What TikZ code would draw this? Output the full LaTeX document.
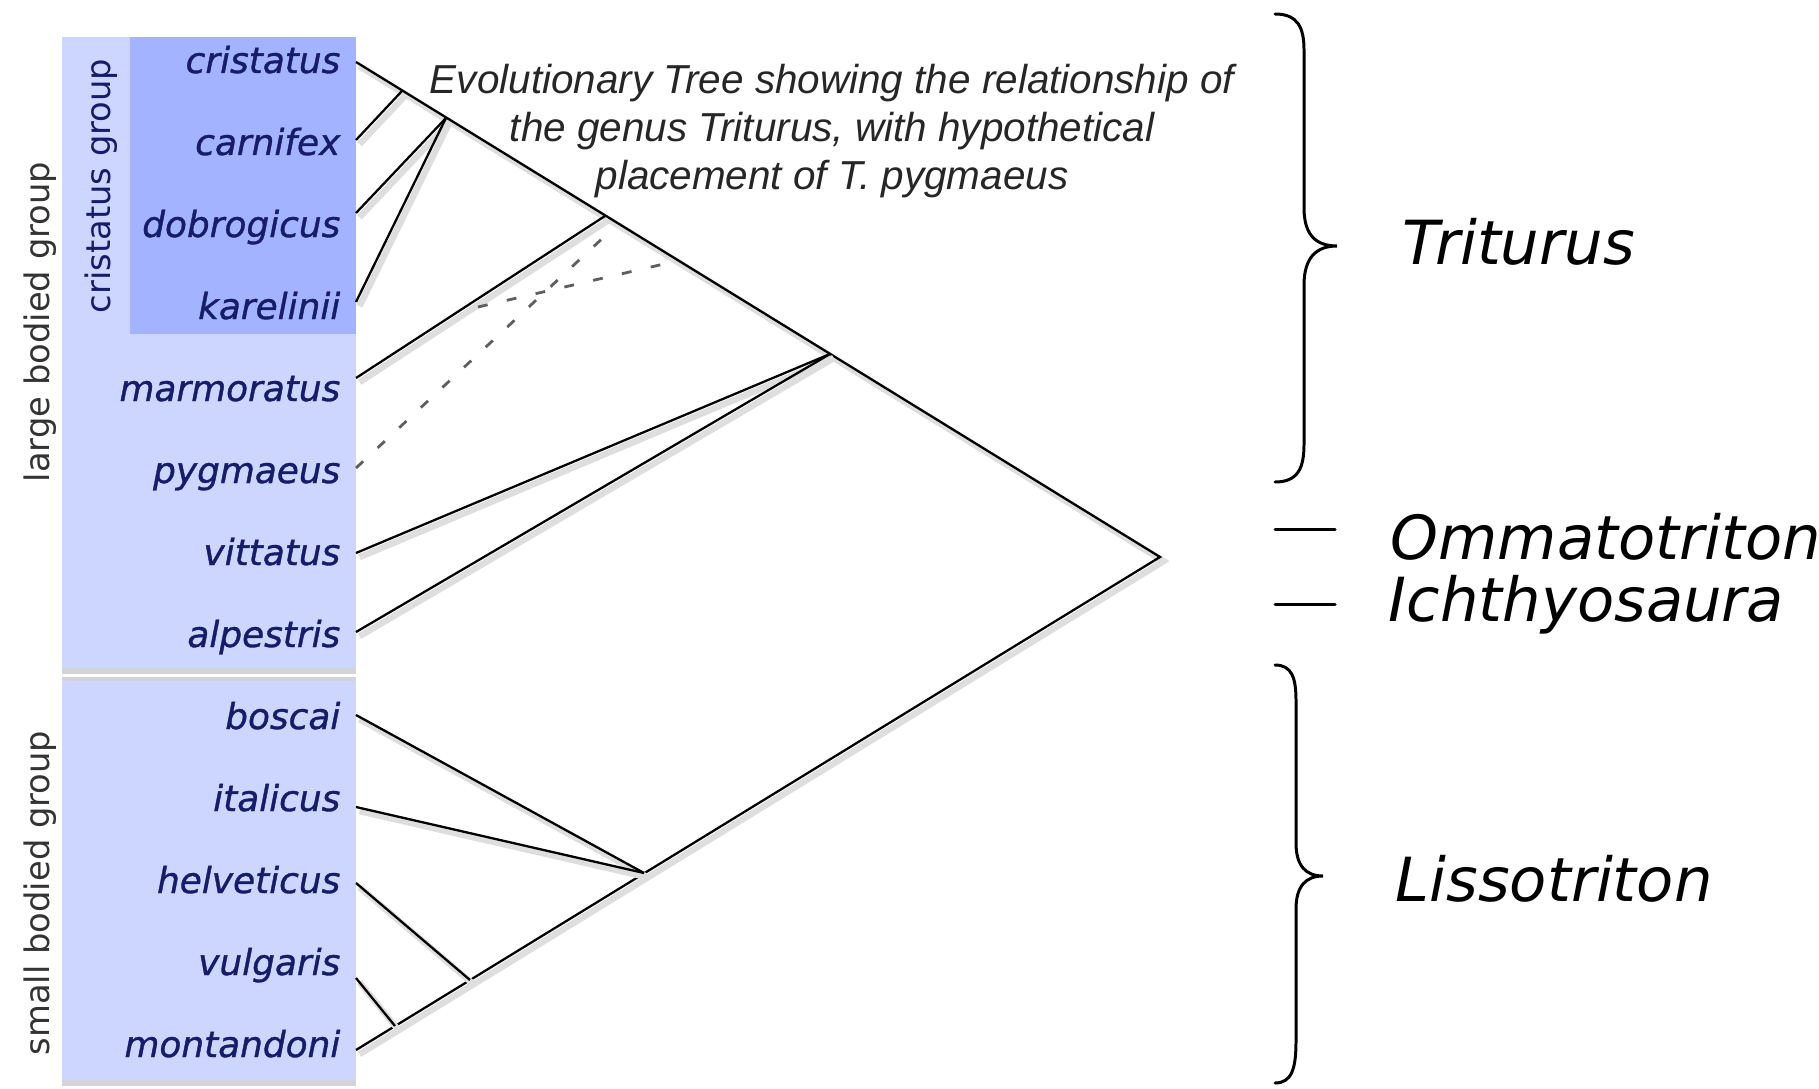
\documentclass[tikz,border=0pt]{standalone}
\usepackage{fontspec}
\setmainfont{DejaVu Sans}
\newfontfamily\captionfont{Liberation Sans}
\newfontfamily\speciesfont{DejaVu Sans}[ItalicFeatures={FakeBold=1}]
\usetikzlibrary{positioning}

\definecolor{panelblue}{RGB}{205,214,255}
\definecolor{groupblue}{RGB}{163,179,255}
\definecolor{panelrule}{RGB}{212,212,216}
\definecolor{navy}{RGB}{22,28,105}
\definecolor{dashgray}{RGB}{95,95,95}

\tikzset{
  species/.style={font=\fontsize{10.2}{12}\selectfont\speciesfont\itshape, text=navy, anchor=base east, inner sep=0pt},
  grouplabel/.style={font=\fontsize{9.6}{11}\selectfont, rotate=90, inner sep=0pt},
  genus/.style={font=\fontsize{17.3}{20}\selectfont\itshape, anchor=base west, inner sep=0pt},
  branch/.style={line width=0.65pt, preaction={draw=black!13, line width=1.8pt, transform canvas={xshift=1pt, yshift=-1.2pt}}},
  hypo/.style={line width=0.8pt, draw=dashgray, dash pattern=on 2.8pt off 5.6pt},
  bracket/.style={line width=0.85pt, line cap=round},
}

\begin{document}
\begin{tikzpicture}[x=0.01cm, y=-0.01cm]
  \useasboundingbox (0,0) rectangle (1819,1088);

  % group panels
  \fill[panelrule] (62,37) rectangle (356,674);
  \fill[panelblue] (62,37) rectangle (356,668);
  \fill[panelrule] (62,677) rectangle (356,1086);
  \fill[panelblue] (62,681) rectangle (356,1080);
  \fill[groupblue] (130,37) rectangle (356,334);

  \node[grouplabel, text=black!80] (large) at (40,322) {large bodied group};
  \node[grouplabel, text=navy] (cristatusgroup) at (101,186) {cristatus group};
  \node[grouplabel, text=black!80] (small) at (40,893) {small bodied group};

  % species names
  \foreach \name [count=\i from 0] in {cristatus,carnifex,dobrogicus,karelinii,marmoratus,pygmaeus,vittatus,alpestris,boscai,italicus,helveticus,vulgaris,montandoni}
    \node[species] (\name) at (341,{73+82*\i}) {\name};

  % branch tips and forks
  \foreach \name/\ty in {cristatus/62,carnifex/140,dobrogicus/213,karelinii/302,marmoratus/378,pygmaeus/468,vittatus/553,alpestris/632,boscai/715,italicus/807,helveticus/883,vulgaris/978,montandoni/1050}
    \coordinate (\name-tip) at (356,\ty);
  \coordinate (root) at (1160,557);
  \coordinate (fork-cc) at (402,91);
  \coordinate (fork-dk) at (446,118);
  \coordinate (fork-marm) at (605,216);
  \coordinate (fork-va) at (830,354);
  \coordinate (fork-bi) at (644,873);
  \coordinate (fork-hel) at (470,980);
  \coordinate (fork-vm) at (395,1026);
  \coordinate (hypo-a) at (606,235);
  \coordinate (hypo-b1) at (478,307);
  \coordinate (hypo-b2) at (664,264);

  % tree
  \draw[branch] (cristatus-tip) -- (root) -- (montandoni-tip);
  \draw[branch] (carnifex-tip) -- (fork-cc);
  \draw[branch] (dobrogicus-tip) -- (fork-dk);
  \draw[branch] (karelinii-tip) -- (fork-dk);
  \draw[branch] (marmoratus-tip) -- (fork-marm);
  \draw[branch] (vittatus-tip) -- (fork-va);
  \draw[branch] (alpestris-tip) -- (fork-va);
  \draw[branch] (boscai-tip) -- (fork-bi);
  \draw[branch] (italicus-tip) -- (fork-bi);
  \draw[branch] (helveticus-tip) -- (fork-hel);
  \draw[branch] (vulgaris-tip) -- (fork-vm);
  % hypothetical placement
  \draw[hypo] (pygmaeus-tip) -- (hypo-a);
  \draw[hypo] (hypo-b1) -- (hypo-b2);

  \node[font=\fontsize{11.5}{13.7}\selectfont\captionfont\itshape, text=black!85, align=center, anchor=north, inner sep=0pt] (caption) at (832,63)
    {Evolutionary Tree showing the relationship of\\the genus Triturus, with hypothetical\\placement of T. pygmaeus};

  % genera
  \draw[bracket] (1275,14) .. controls (1298,14) and (1304,28) .. (1304,50) -- (1304,208)
    .. controls (1304,235) and (1316,246) .. (1337,246)
    .. controls (1316,246) and (1304,258) .. (1304,285) -- (1304,444)
    .. controls (1304,468) and (1298,482) .. (1275,482);
  \draw[bracket] (1275,665) .. controls (1292,665) and (1296,678) .. (1296,701) -- (1296,843)
    .. controls (1296,866) and (1306,876) .. (1323,876)
    .. controls (1306,876) and (1296,886) .. (1296,909) -- (1296,1041)
    .. controls (1296,1068) and (1292,1083) .. (1275,1083);
  \draw[bracket] (1275,529) -- (1335,529);
  \draw[bracket] (1275,604) -- (1335,604);

  \node[genus] (triturus) at (1402,264) {Triturus};
  \node[genus] (ommatotriton) at (1390,559) {Ommatotriton};
  \node[genus] (ichthyosaura) at (1388,621) {Ichthyosaura};
  \node[genus] (lissotriton) at (1395,901) {Lissotriton};
\end{tikzpicture}
\end{document}
